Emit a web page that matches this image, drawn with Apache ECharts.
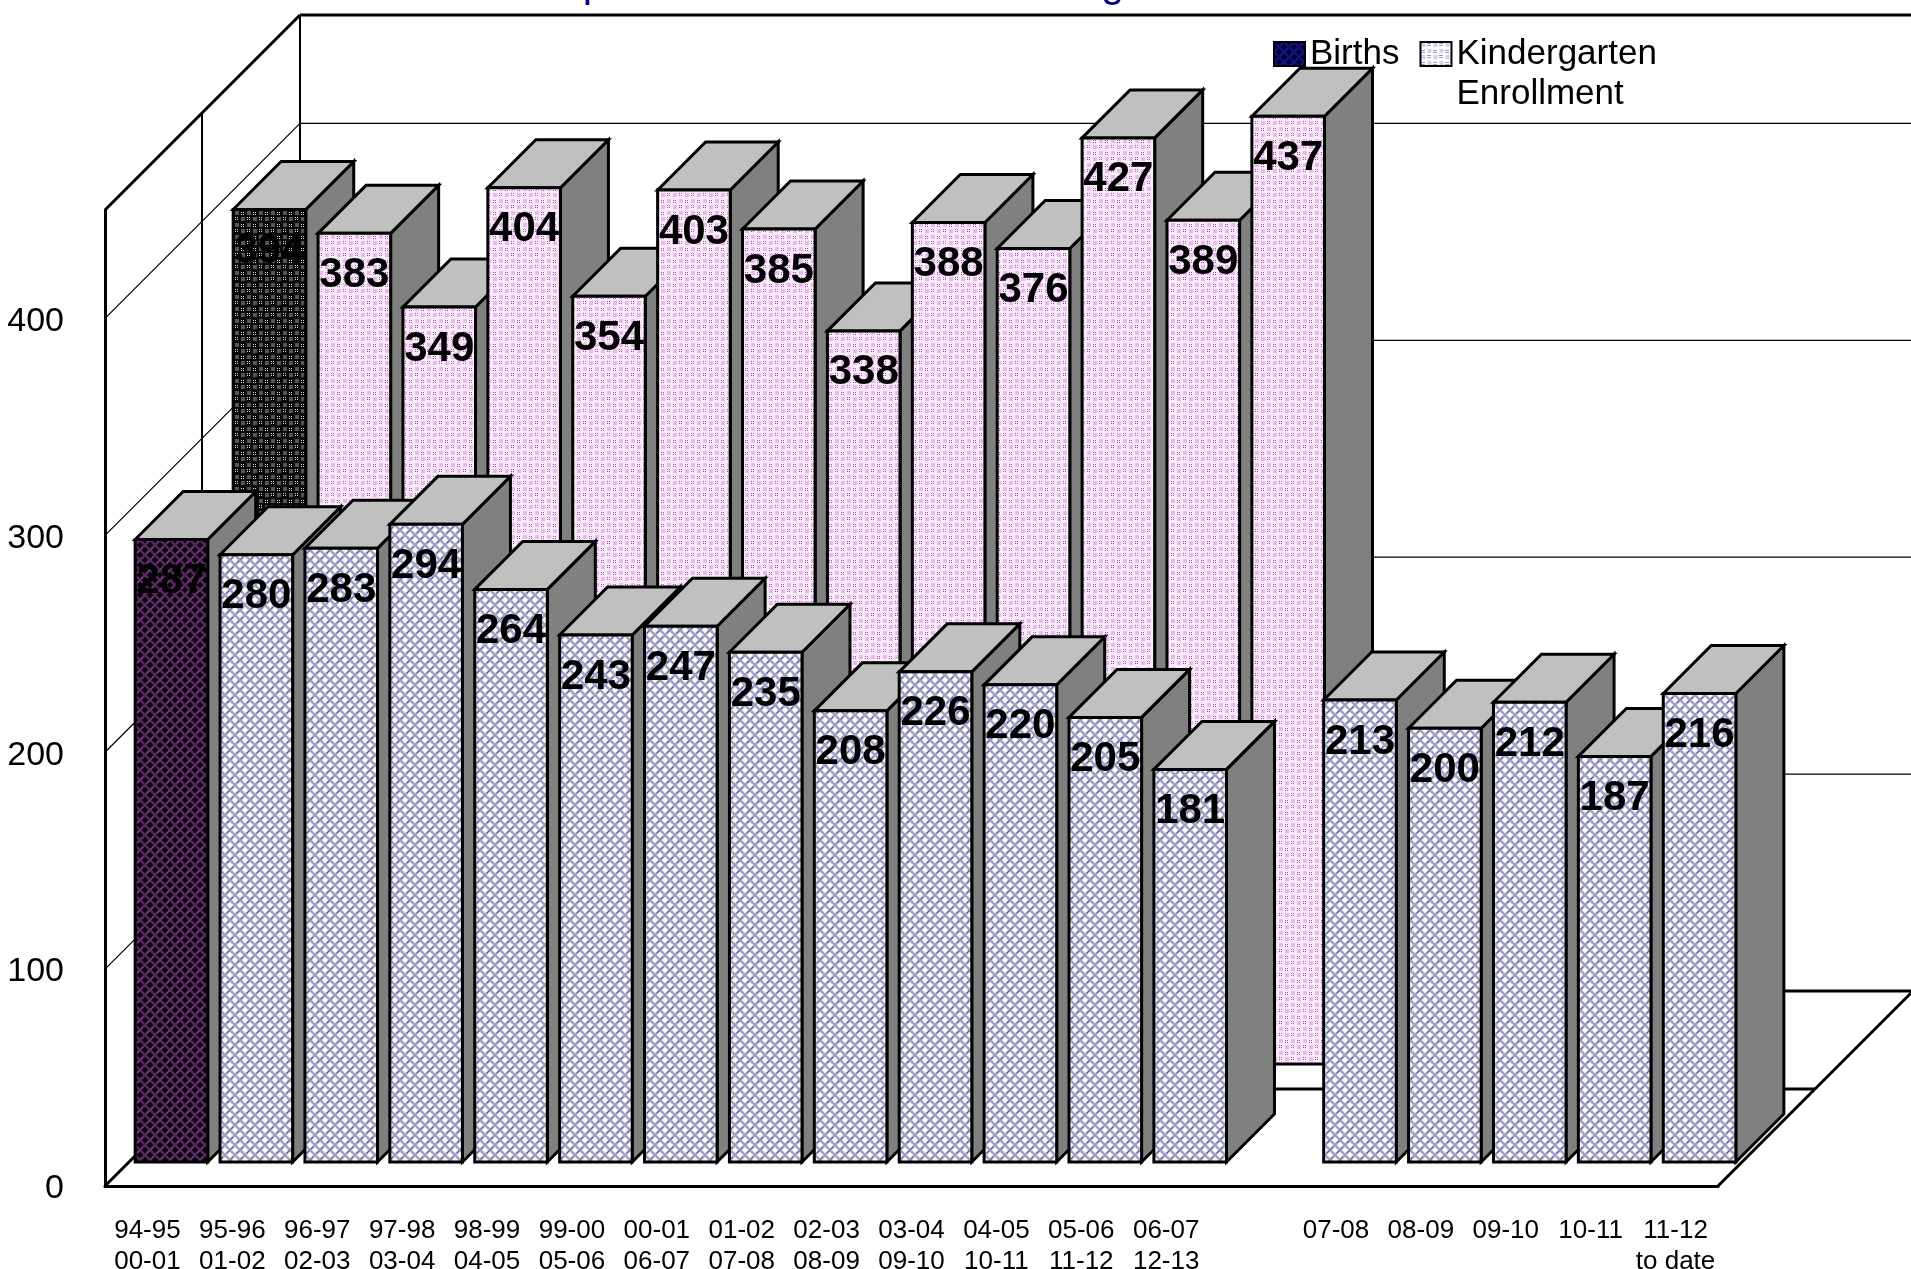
<!DOCTYPE html>
<html>
<head>
<meta charset="utf-8">
<style>
  html, body { margin: 0; padding: 0; background: #fff; overflow: hidden; }
  #chart { width: 1911px; height: 1269px; }
</style>
<script src="https://cdn.jsdelivr.net/npm/echarts@6/dist/echarts.min.js"></script>
</head>
<body>
<div id="chart"></div>
<script>
// first line of each x label, '' is the empty slot between 06-07 and 07-08
const startYears = ['94-95', '95-96', '96-97', '97-98', '98-99', '99-00', '00-01', '01-02', '02-03', '03-04', '04-05', '05-06', '06-07', '', '07-08', '08-09', '09-10', '10-11', '11-12']
const endYears = ['00-01', '01-02', '02-03', '03-04', '04-05', '05-06', '06-07', '07-08', '08-09', '09-10', '10-11', '11-12', '12-13', '', '', '', '', '', 'to date']
const backRow = [394, 383, 349, 404, 354, 403, 385, 338, 388, 376, 427, 389, 437]
const frontRow = [287, 280, 283, 294, 264, 243, 247, 235, 208, 226, 220, 205, 181, null, 213, 200, 212, 187, 216]
const gridValues = [100, 200, 300, 400]
// the title is cut by the top of the picture, only the p and g tails show
const titleText = 'Comparison of Births and Kindergarten Enrollment'

const FONT = '"Liberation Sans", Arial, sans-serif'
const DEPTH = 195
const MID_DEPTH = 97
const BAR_DEPTH = 48
const BACK_OFFSET = 122
const FRONT_OFFSET = 24
const BAR_RATIO = 0.855
const TOP_COLOR = '#c0c0c0'
const SIDE_COLOR = '#808080'

function makePattern(size, draw) {
  const canvas = document.createElement('canvas')
  canvas.width = size
  canvas.height = size
  const ctx = canvas.getContext('2d')
  draw(ctx, size)
  return { image: canvas, repeat: 'repeat' }
}

function lattice(bg, line, core) {
  return makePattern(10, (ctx, s) => {
    ctx.fillStyle = bg
    ctx.fillRect(0, 0, s, s)
    ctx.strokeStyle = line
    ctx.lineWidth = 2.6
    ctx.beginPath()
    ctx.moveTo(0, 0); ctx.lineTo(s, s)
    ctx.moveTo(s, 0); ctx.lineTo(0, s)
    ctx.stroke()
    ctx.strokeStyle = core
    ctx.lineWidth = 0.7
    ctx.beginPath()
    ctx.moveTo(s * 0.7, s * 0.3); ctx.lineTo(s * 0.95, s * 0.05)
    ctx.moveTo(s * 0.3, s * 0.7); ctx.lineTo(s * 0.05, s * 0.95)
    ctx.stroke()
  })
}

function dots(bg, block, dot) {
  return makePattern(12, (ctx, s) => {
    ctx.fillStyle = bg
    ctx.fillRect(0, 0, s, s)
    ctx.fillStyle = block
    ctx.fillRect(1, 1, 4, 4)
    ctx.fillRect(7, 7, 4, 4)
    ctx.fillStyle = dot
    ctx.fillRect(7, 1, 1, 1)
    ctx.fillRect(9, 1, 1, 1)
    ctx.fillRect(7, 3, 1, 1)
    ctx.fillRect(9, 3, 1, 1)
    ctx.fillRect(1, 8, 1, 1)
    ctx.fillRect(3, 8, 1, 1)
    ctx.fillRect(1, 10, 1, 1)
    ctx.fillRect(3, 10, 1, 1)
  })
}

const frontDark = lattice('#000000', '#55285f', '#d030d0')
const frontLight = lattice('#ffffff', '#a2a2c4', '#30309a')
const backDark = dots('#0a0a0a', '#555555', '#e0e0e0')
const backLight = dots('#fdeafc', '#e2bde6', '#9a4fb0')
const legendDark = lattice('#000030', '#101078', '#2020d0')
const legendLight = dots('#ffffff', '#d0d0ee', '#3030a0')

const categories = startYears.map((s, i) => (endYears[i] ? s + '\n' + endYears[i] : s))

function shift(p, d) {
  return [p[0] + d, p[1] - d]
}

function poly(points, fill) {
  return {
    type: 'polygon',
    shape: { points },
    style: { fill, stroke: '#000', lineWidth: 3, lineJoin: 'miter' }
  }
}

function barRenderer(offset, fill) {
  return (params, api) => {
    const cat = api.value(0)
    const val = api.value(1)
    const half = api.size([1, 0])[0] * BAR_RATIO / 2
    const top = api.coord([cat, val])
    const base = api.coord([cat, 0])
    const fl = shift([top[0] - half, base[1]], offset)
    const fr = shift([top[0] + half, base[1]], offset)
    const tl = shift([top[0] - half, top[1]], offset)
    const tr = shift([top[0] + half, top[1]], offset)
    return {
      type: 'group',
      children: [
        poly([tr, shift(tr, BAR_DEPTH), shift(fr, BAR_DEPTH), fr], SIDE_COLOR),
        poly([tl, shift(tl, BAR_DEPTH), shift(tr, BAR_DEPTH), tr], TOP_COLOR),
        poly([tl, tr, fr, fl], fill),
        {
          type: 'text',
          style: {
            text: String(val),
            x: top[0] + offset,
            y: tl[1] + 42,
            align: 'center',
            verticalAlign: 'middle',
            font: 'bold 42px ' + FONT,
            fill: '#000'
          }
        }
      ]
    }
  }
}

function line(a, b, width) {
  return { type: 'line', shape: { x1: a[0], y1: a[1], x2: b[0], y2: b[1] }, style: { stroke: '#000', lineWidth: width } }
}

// walls and floor of the box, sit behind all the bars
function renderFrame(params, api) {
  const left = params.coordSys.x
  const right = left + params.coordSys.width
  const floor = api.coord([0, 0])[1]
  const roof = params.coordSys.y
  const children = []
  gridValues.forEach(v => {
    const y = api.coord([0, v])[1]
    children.push(line([left, y], shift([left, y], DEPTH), 1.2))
    children.push(line(shift([left, y], DEPTH), shift([right, y], DEPTH), 1.2))
  })
  children.push(line([left, roof], shift([left, roof], DEPTH), 3))
  children.push(line(shift([left, roof], DEPTH), shift([right, roof], DEPTH), 3))
  children.push(line(shift([left, roof], DEPTH), shift([left, floor], DEPTH), 2))
  children.push(line(shift([left, roof], MID_DEPTH), shift([left, floor], MID_DEPTH), 2))
  children.push(line([left, floor], shift([left, floor], DEPTH), 3))
  children.push(line([right, floor], shift([right, floor], DEPTH), 3))
  children.push(line(shift([left, floor], DEPTH), shift([right, floor], DEPTH), 3))
  children.push(line(shift([left, floor], MID_DEPTH), shift([right, floor], MID_DEPTH), 3))
  return { type: 'group', children }
}

function rowData(values, from, to) {
  return values
    .map((v, i) => [i, v])
    .filter(d => d[1] !== null && d[0] >= from && d[0] < to)
}

function barSeries(name, values, from, to, offset, fill) {
  return {
    name,
    type: 'custom',
    renderItem: barRenderer(offset, fill),
    data: rowData(values, from, to),
    encode: { x: 0, y: 1 },
    clip: false,
    silent: true
  }
}

const chart = echarts.init(document.getElementById('chart'))
chart.setOption({
  animation: false,
  backgroundColor: '#fff',
  title: {
    text: titleText,
    left: 489,
    top: -42,
    textStyle: { fontFamily: FONT, fontSize: 42, fontWeight: 'normal', color: '#000080' }
  },
  legend: {
    left: 1268,
    top: -11,
    itemWidth: 31,
    itemHeight: 24,
    itemGap: 20,
    selectedMode: false,
    textStyle: { fontFamily: FONT, fontSize: 35, lineHeight: 40, color: '#000' },
    formatter: name => (name === 'Births' ? name : '\nKindergarten\nEnrollment'),
    data: [
      { name: 'Births', icon: 'rect', itemStyle: { color: legendDark, borderColor: '#000', borderWidth: 2 } },
      { name: 'Kindergarten Enrollment', icon: 'rect', itemStyle: { color: legendLight, borderColor: '#000', borderWidth: 2 } }
    ]
  },
  grid: { left: 105, right: 193, top: 210, bottom: 83, outerBoundsMode: 'none' },
  xAxis: {
    type: 'category',
    data: categories,
    axisLine: { show: true, lineStyle: { color: '#000', width: 3 } },
    axisTick: { show: false },
    axisLabel: {
      interval: 0,
      margin: 29,
      fontFamily: FONT,
      fontSize: 26,
      lineHeight: 31,
      color: '#000'
    }
  },
  yAxis: {
    type: 'value',
    min: 0,
    max: 450,
    interval: 100,
    splitLine: { show: false },
    axisTick: { show: false },
    axisLine: { show: true, lineStyle: { color: '#000', width: 3 } },
    axisLabel: { showMaxLabel: false, margin: 41, verticalAlign: 'top', lineHeight: 6, fontFamily: FONT, fontSize: 34, color: '#000' }
  },
  series: [
    {
      type: 'custom',
      renderItem: renderFrame,
      data: [[0, 0]],
      encode: { x: 0, y: 1 },
      clip: false,
      silent: true
    },
    barSeries('Births', backRow, 0, 1, BACK_OFFSET, backDark),
    barSeries('Kindergarten Enrollment', backRow, 1, backRow.length, BACK_OFFSET, backLight),
    barSeries('Births', frontRow, 0, 1, FRONT_OFFSET, frontDark),
    barSeries('Kindergarten Enrollment', frontRow, 1, frontRow.length, FRONT_OFFSET, frontLight)
  ]
})
</script>
</body>
</html>
